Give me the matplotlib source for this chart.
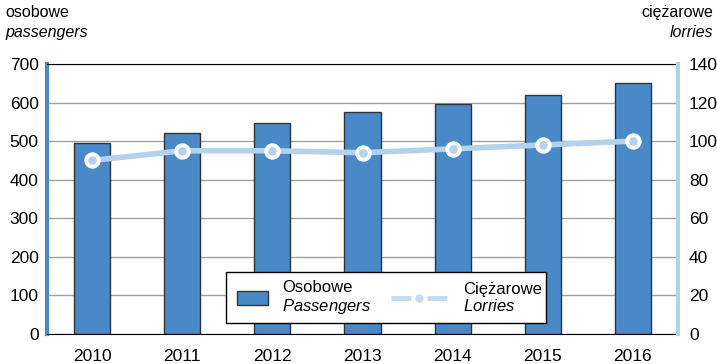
import numpy as np
import matplotlib.pyplot as plt
from matplotlib.patches import Patch, Rectangle
from matplotlib.lines import Line2D

plt.rcParams['font.family'] = 'Liberation Sans'
plt.rcParams['mathtext.fontset'] = 'custom'
plt.rcParams['mathtext.rm'] = 'Liberation Sans'
plt.rcParams['mathtext.it'] = 'Liberation Sans:italic'

# registered vehicles per year
years = ['2010', '2011', '2012', '2013', '2014', '2015', '2016']
passengers = [494, 521, 547, 575, 597, 620, 650]   # left axis
lorries = [90, 95, 95, 94, 96, 98, 100]            # right axis

barColor = '#4a89c8'
lineColor = '#b4d2ec'

fig = plt.figure(figsize=(7.17, 3.64), dpi=100)
ax = fig.add_axes([0.0656, 0.0824, 0.88, 0.7418])
x = np.arange(len(years))

# bars for passenger cars
ax.bar(x, passengers, width=0.4, color=barColor, edgecolor='#333333', linewidth=1, zorder=2)
ax.set_xlim(-0.5, 6.5)
ax.set_ylim(0, 700)
ax.set_yticks(range(0, 701, 100))
ax.set_xticks(x)
ax.set_xticklabels(years)
ax.yaxis.grid(True, color='#a0a0a0', linewidth=1, zorder=0)
ax.set_axisbelow(True)
ax.tick_params(length=0, labelsize=12.5, pad=6)
ax.tick_params(axis='x', pad=11)

ax.spines['left'].set_color(barColor)
ax.spines['left'].set_linewidth(3)
ax.spines['right'].set_visible(False)
ax.spines['top'].set_color('black')
ax.spines['bottom'].set_color('black')

# line for lorries on second axis
ax2 = ax.twinx()
ax2.plot(x, lorries, color=lineColor, linewidth=4, marker='o', markersize=9,
         markerfacecolor=lineColor, markeredgecolor='white', markeredgewidth=2.8, zorder=3)
ax2.set_ylim(0, 140)
ax2.set_yticks(range(0, 141, 20))
ax2.tick_params(length=0, labelsize=12.5, pad=8)
ax2.spines['right'].set_color(lineColor)
ax2.spines['right'].set_linewidth(3)
ax2.spines['left'].set_visible(False)
ax2.spines['top'].set_visible(False)
ax2.spines['bottom'].set_visible(False)

# axis titles in two languages
fig.text(0.007, 0.965, 'osobowe', fontsize=11.5, va='center', ha='left')
fig.text(0.007, 0.91, 'passengers', fontsize=11.5, style='italic', va='center', ha='left')
fig.text(0.995, 0.965, 'ciężarowe', fontsize=11.5, va='center', ha='right')
fig.text(0.995, 0.91, 'lorries', fontsize=11.5, style='italic', va='center', ha='right')

# legend: one frame, two entries with their own handle sizes
frame = Rectangle((0.2837, 0.0407), 0.5071, 0.1889, transform=ax2.transAxes,
                  facecolor='white', edgecolor='black', linewidth=1, zorder=5)
ax2.add_patch(frame)

barHandle = Patch(facecolor=barColor, edgecolor='#333333', linewidth=1)
lineHandle = Line2D([], [], color='#c5dcf0', linewidth=3.6, linestyle=(0, (4, 3.2)),
                    marker='o', markersize=5, markerfacecolor='#c5dcf0', markeredgecolor='#c5dcf0')

leg1 = ax2.legend([barHandle], ['Osobowe\n$\\it{Passengers}$'], loc='center left',
                  bbox_to_anchor=(0.3011, 0.1333), fontsize=12, frameon=False,
                  handlelength=1.86, handleheight=0.9, handletextpad=0.84,
                  borderpad=0, borderaxespad=0)
leg1.set_zorder(6)
ax2.add_artist(leg1)

leg2 = ax2.legend([lineHandle], ['Ciężarowe\n$\\it{Lorries}$'], loc='center left',
                  bbox_to_anchor=(0.5452, 0.1333), fontsize=12, frameon=False,
                  handlelength=3.36, handletextpad=0.96, numpoints=1,
                  borderpad=0, borderaxespad=0)
leg2.set_zorder(6)

for leg in (leg1, leg2):
    for t in leg.get_texts():
        t.set_linespacing(1.08)

fig.savefig('out.png', dpi=100)
